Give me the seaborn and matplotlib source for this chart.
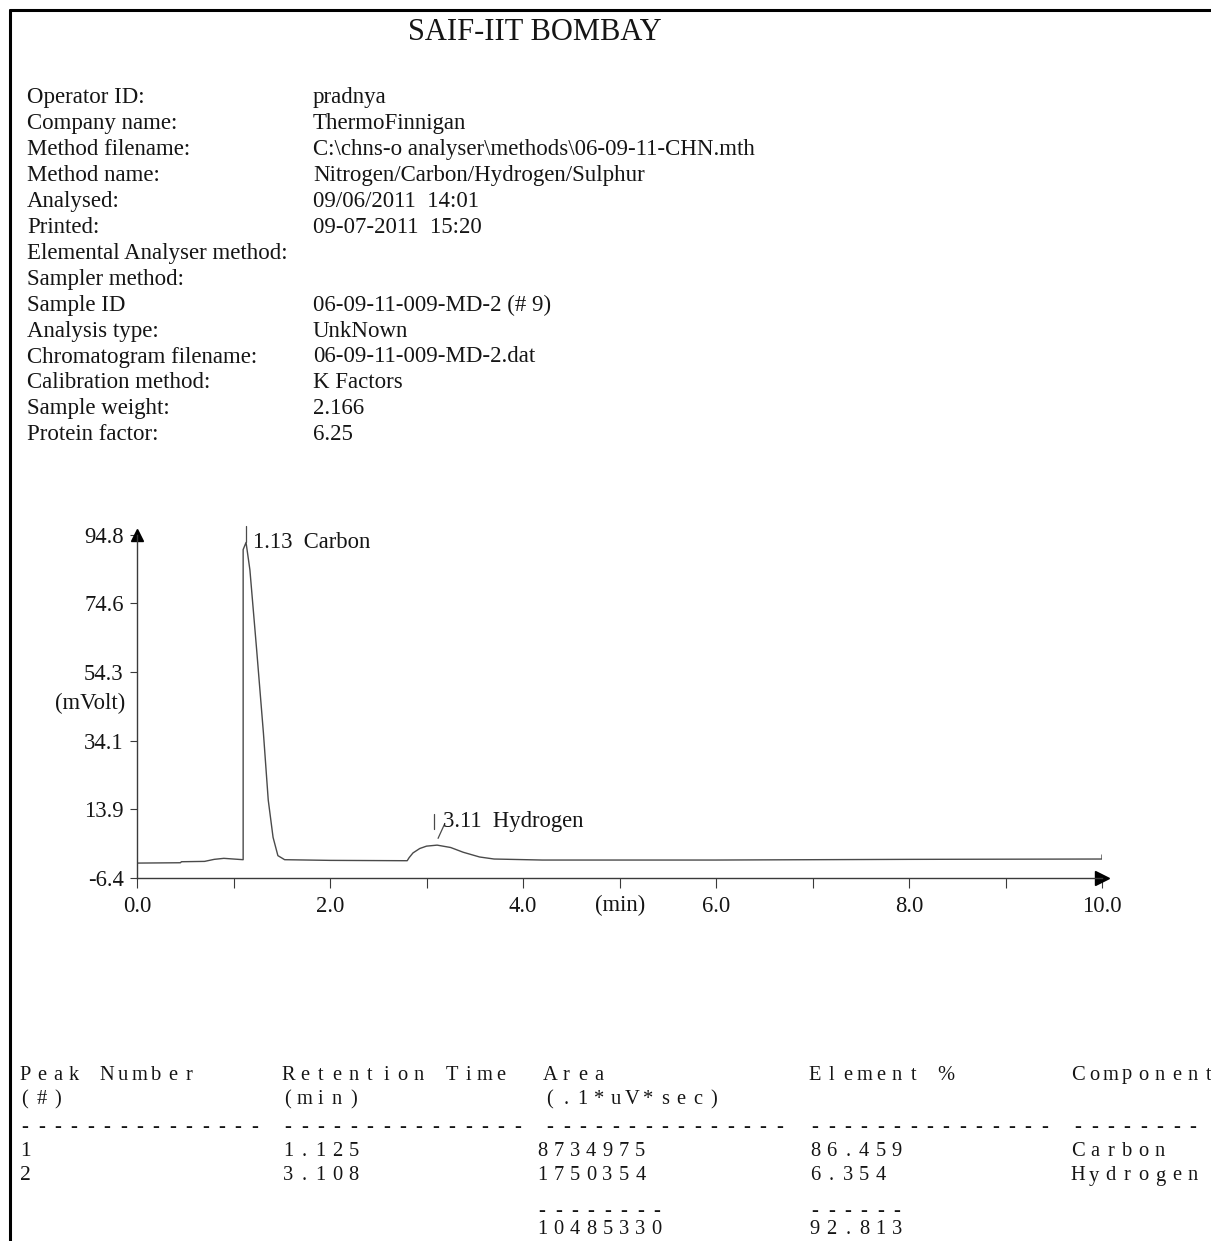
import matplotlib
matplotlib.use("Agg")
import matplotlib.pyplot as plt
import pandas as pd
import seaborn as sns

# ---- date citite de pe foaia imprimata ----
titlu = "SAIF-IIT BOMBAY"

etichete_info = ["Operator ID:", "Company name:", "Method filename:", "Method name:", "Analysed:",
                 "Printed:", "Elemental Analyser method:", "Sampler method:", "Sample ID",
                 "Analysis type:", "Chromatogram filename:", "Calibration method:",
                 "Sample weight:", "Protein factor:"]
valori_info = ["pradnya", "ThermoFinnigan", "C:\\chns-o analyser\\methods\\06-09-11-CHN.mth",
               "Nitrogen/Carbon/Hydrogen/Sulphur", "09/06/2011  14:01", "09-07-2011  15:20",
               "", "", "06-09-11-009-MD-2 (# 9)", "UnkNown", "06-09-11-009-MD-2.dat",
               "K Factors", "2.166", "6.25"]

# cromatograma (min, mVolt)
timp = [0.00, 0.45, 0.46, 0.70, 0.80, 0.90, 1.00, 1.10, 1.10, 1.13, 1.17, 1.24, 1.31, 1.36,
        1.41, 1.46, 1.53, 2.00, 2.80, 2.82, 2.86, 2.93, 3.00, 3.11, 3.25, 3.38, 3.55, 3.70,
        4.20, 6.00, 8.00, 10.00, 10.00]
semnal = [-2.0, -1.9, -1.6, -1.5, -0.9, -0.6, -0.8, -1.0, 90.5, 92.6, 84.5, 60.9, 36.4, 16.6,
          5.6, 0.2, -1.0, -1.2, -1.3, -0.4, 1.0, 2.3, 3.0, 3.3, 2.6, 1.2, -0.2, -0.8,
          -1.1, -1.1, -0.9, -0.8, 0.4]

varf_timp = [1.13, 3.11]
varf_inaltime = [92.6, 3.3]
varf_nume = ["1.13  Carbon", "3.11  Hydrogen"]

y_ticks = [94.8, 74.6, 54.3, 34.1, 13.9, -6.4]
x_major = [0, 2, 4, 6, 8, 10]
x_minor = [1, 3, 5, 7, 9]

# tabel
antet_1 = ["Peak Number", "Retention Time", "Area", "Element %", "Component"]
antet_2 = ["(#)", "(min)", "(.1*uV*sec)", "", ""]
nr_liniute = [15, 15, 15, 15, 8]
nr_varf = ["1", "2"]
timp_retentie = ["1.125", "3.108"]
arie = ["8734975", "1750354"]
procent = ["86.459", "6.354"]
componenta = ["Carbon", "Hydrogen"]
total_arie = "10485330"
total_procent = "92.813"

FONT = "Liberation Serif"
CULOARE = "#151515"
PAS = 16.4          # pasul caracterelor din tabel (px)
COL_X = [20, 283, 545, 810, 1073]


def text_spatiat(ax, x, y, s, size=14.8):
    # tabelul e tiparit cu litere rare, asa ca fiecare caracter sta in celula lui
    for i, ch in enumerate(s):
        if ch != " ":
            ax.text(x + i * PAS + PAS * 0.3, y, ch, ha="center", va="center",
                    fontsize=size, family=FONT, color=CULOARE)


def main():
    sns.set_style("white")
    plt.rcParams["font.family"] = [FONT, "DejaVu Sans"]

    fig = plt.figure(figsize=(12.11, 12.41), dpi=100)
    fig.patch.set_facecolor("white")

    # fundal in coordonate pixel
    bg = fig.add_axes([0, 0, 1, 1])
    bg.set_xlim(0, 1211)
    bg.set_ylim(1241, 0)
    bg.axis("off")

    bg.plot([10, 10], [10, 1241], color="black", lw=2.2)
    bg.plot([10, 1211], [10, 10], color="black", lw=2.2)

    bg.text(535, 33, titlu, ha="center", va="center", fontsize=22, color=CULOARE)

    for i, (et, val) in enumerate(zip(etichete_info, valori_info)):
        y = 98 + i * 25.9
        bg.text(27, y, et, ha="left", va="center", fontsize=16.5, color=CULOARE)
        bg.text(313, y, val, ha="left", va="center", fontsize=16.5, color=CULOARE)

    bg.text(90, 703, "(mVolt)", ha="center", va="center", fontsize=16.3, color=CULOARE)
    bg.text(620, 905, "(min)", ha="center", va="center", fontsize=16.3, color=CULOARE)

    # ---- cromatograma ----
    ax = fig.add_axes([137 / 1211, 1 - 878 / 1241, (1102 - 137) / 1211, (878 - 535) / 1241])
    ax.patch.set_alpha(0)
    df = pd.DataFrame({"timp": timp, "semnal": semnal})
    sns.lineplot(data=df, x="timp", y="semnal", ax=ax, sort=False, estimator=None,
                 color="#4a4a4a", linewidth=1.0)
    ax.set_xlim(0, 10)
    ax.set_ylim(-6.4, 94.8)
    ax.set_xlabel("")
    ax.set_ylabel("")

    for sp in ["top", "right"]:
        ax.spines[sp].set_visible(False)
    for sp in ["left", "bottom"]:
        ax.spines[sp].set_color("#3a3a3a")
        ax.spines[sp].set_linewidth(1.0)

    ax.set_yticks(y_ticks)
    ax.set_yticklabels([f"{v:.1f}" for v in y_ticks])
    ax.set_xticks(x_major)
    ax.set_xticklabels([f"{v:.1f}" for v in x_major])
    ax.set_xticks(x_minor, minor=True)
    ax.tick_params(axis="y", direction="out", length=5, width=0.8, pad=4.5,
                   labelsize=16.3, colors="#3a3a3a", labelcolor=CULOARE, left=True)
    ax.tick_params(axis="x", which="both", direction="out", length=7, width=0.8, pad=6,
                   labelsize=16.3, colors="#3a3a3a", labelcolor=CULOARE, bottom=True)

    # sageti la capetele axelor
    ax.plot([0], [94.8], marker="^", markersize=9, color="black", clip_on=False)
    ax.plot([10], [-6.4], marker=">", markersize=10, color="black", clip_on=False)

    # etichete de varf
    ax.annotate(varf_nume[0], xy=(varf_timp[0], varf_inaltime[0]), xytext=(5, 0),
                textcoords="offset points", ha="left", va="center", fontsize=16.3,
                color=CULOARE, annotation_clip=False)
    ax.plot([varf_timp[0], varf_timp[0]], [varf_inaltime[0], varf_inaltime[0] + 4.8],
            color="#4a4a4a", lw=0.9, clip_on=False)

    ax.annotate(varf_nume[1], xy=(varf_timp[1], varf_inaltime[1]), xytext=(4.5, 17),
                textcoords="offset points", ha="left", va="center", fontsize=16.3,
                color=CULOARE, annotation_clip=False)
    ax.plot([varf_timp[1] - 0.03, varf_timp[1] - 0.03],
            [varf_inaltime[1] + 4.8, varf_inaltime[1] + 9.2], color="#4a4a4a", lw=0.9)
    ax.plot([varf_timp[1] + 0.01, varf_timp[1] + 0.08],
            [varf_inaltime[1] + 2.0, varf_inaltime[1] + 6.4], color="#4a4a4a", lw=0.9)

    # ---- tabel ----
    for x, a1, a2, n in zip(COL_X, antet_1, antet_2, nr_liniute):
        text_spatiat(bg, x, 1075, a1)
        text_spatiat(bg, x, 1100, a2)
        text_spatiat(bg, x, 1127, "-" * n)

    for i in range(len(nr_varf)):
        y = 1151 + i * 25
        bg.text(COL_X[0], y, nr_varf[i], ha="left", va="center", fontsize=15.5, color=CULOARE)
        text_spatiat(bg, COL_X[1], y, timp_retentie[i])
        text_spatiat(bg, COL_X[2] - 8, y, arie[i])
        text_spatiat(bg, COL_X[3], y, procent[i])
        text_spatiat(bg, COL_X[4], y, componenta[i])

    text_spatiat(bg, COL_X[2] - 8, 1212, "-" * len(total_arie))
    text_spatiat(bg, COL_X[2] - 8, 1230, total_arie)
    text_spatiat(bg, COL_X[3], 1212, "-" * len(total_procent))
    text_spatiat(bg, COL_X[3], 1230, total_procent)

    fig.savefig("out.png", dpi=100, facecolor="white")


if __name__ == "__main__":
    main()
